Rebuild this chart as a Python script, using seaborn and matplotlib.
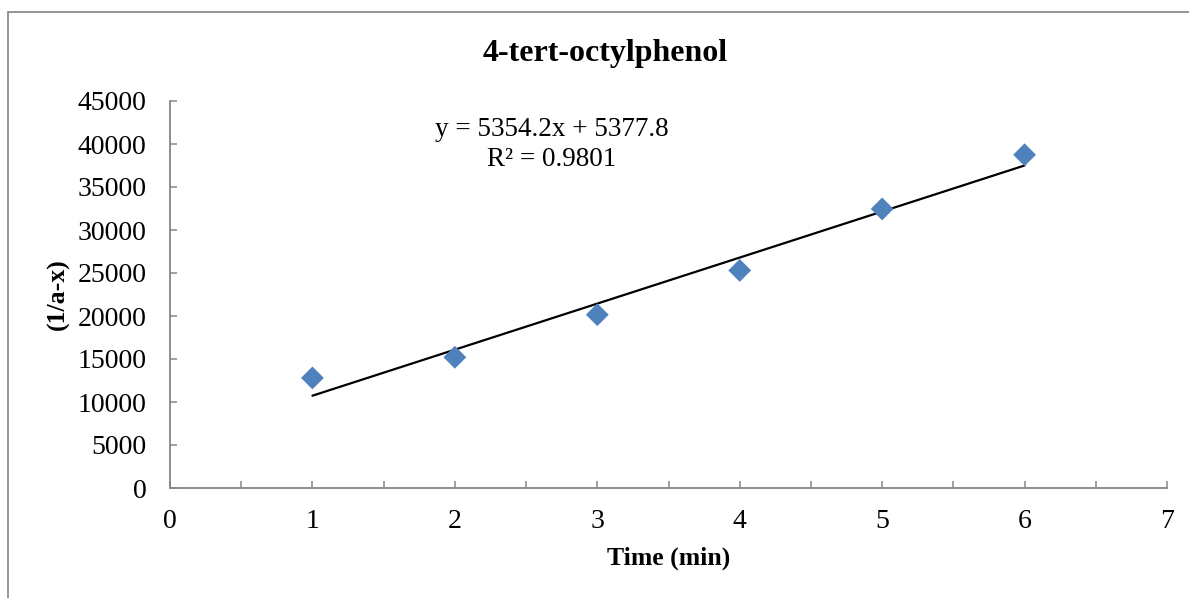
import matplotlib
matplotlib.use("Agg")
import matplotlib.pyplot as plt
import seaborn as sns
import pandas as pd
from matplotlib.patches import Rectangle

# Kinetic data for 4-tert-octylphenol
time_min = [1, 2, 3, 4, 5, 6]
inv_conc = [12800, 15200, 20150, 25300, 32450, 38750]

# Linear trendline as reported on the chart
slope = 5354.2
intercept = 5377.8
r_squared = 0.9801

x_ticks = [0, 0.5, 1, 1.5, 2, 2.5, 3, 3.5, 4, 4.5, 5, 5.5, 6, 6.5, 7]
x_labels = ["0", "", "1", "", "2", "", "3", "", "4", "", "5", "", "6", "", "7"]
y_ticks = [0, 5000, 10000, 15000, 20000, 25000, 30000, 35000, 40000, 45000]

sns.set_theme(style="white")
plt.rcParams["font.family"] = ["Liberation Serif", "DejaVu Serif"]
plt.rcParams["text.color"] = "black"
plt.rcParams["axes.labelcolor"] = "black"

W, H = 1189, 598
fig = plt.figure(figsize=(W / 100, H / 100), dpi=100)
ax = fig.add_axes([170 / W, 1 - 488 / H, (1167 - 170) / W, (488 - 101) / H])

df = pd.DataFrame({"t": time_min, "y": inv_conc})
trend = pd.DataFrame({"t": [time_min[0], time_min[-1]]})
trend["y"] = slope * trend["t"] + intercept

sns.lineplot(data=trend, x="t", y="y", ax=ax, color="black", linewidth=1.6)
sns.scatterplot(data=df, x="t", y="y", ax=ax, marker="D", s=135,
                color="#4F81BD", edgecolor="none", zorder=3)

ax.set_xlim(0, 7)
ax.set_ylim(0, 45000)
ax.set_xticks(x_ticks)
ax.set_xticklabels(x_labels)
ax.set_yticks(y_ticks)
ax.set_yticklabels([str(v) for v in y_ticks])

spine_col = "#868686"
for side in ("top", "right"):
    ax.spines[side].set_visible(False)
for side in ("left", "bottom"):
    ax.spines[side].set_color(spine_col)
    ax.spines[side].set_linewidth(1.3)

ax.tick_params(axis="both", direction="in", length=5, width=1.1,
               color=spine_col, labelsize=20, labelcolor="black")
ax.tick_params(axis="y", pad=17, left=True)
ax.tick_params(axis="x", pad=15, bottom=True)

ax.set_xlabel("Time (min)", fontsize=18.5, fontweight="bold", color="black")
ax.set_ylabel("(1/a-x)", fontsize=18.5, fontweight="bold", color="black")
ax.xaxis.label.set_va("center")
ax.yaxis.label.set_va("center")
ax.xaxis.set_label_coords(0.5, (488 - 558) / 387)
ax.yaxis.set_label_coords((58 - 170) / 997, 0.5)

fig.text(605 / W, 1 - 53 / H, "4-tert-octylphenol", fontsize=23,
         fontweight="bold", ha="center", va="center", color="black")

ax.text(2.68, 41628, f"y = {slope}x + {intercept}", fontsize=19.5,
        ha="center", va="center", color="black")
ax.text(2.68, 38140, f"R\u00b2 = {r_squared}", fontsize=19.5,
        ha="center", va="center", color="black")

# Chart area frame
fig.patches.append(Rectangle((8 / W, -0.1), 1.2, 1.1 - 12 / H,
                             transform=fig.transFigure, fill=False,
                             edgecolor="#8c8c8c", linewidth=1.3))

fig.savefig("out.png", dpi=100)
